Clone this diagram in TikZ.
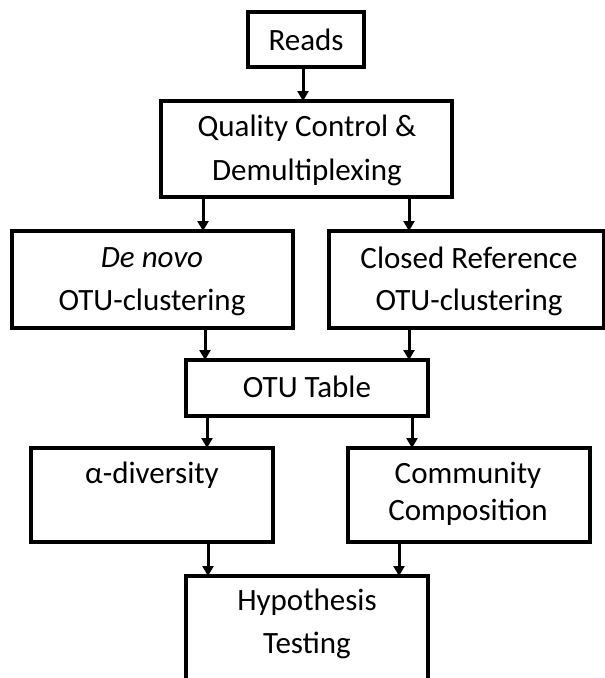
\documentclass[tikz,border=0pt]{standalone}
\usepackage{fontspec}
\setmainfont{Carlito}
\usetikzlibrary{arrows.meta}
\tikzset{
  box/.style={draw=black, line width=3.3pt, rectangle, inner sep=0pt, outer sep=0pt, anchor=north west},
  lbl/.style={inner sep=0pt, font=\fontsize{31}{36}\selectfont, text=black},
  arr/.style={line width=3pt, -{Triangle[width=11pt,length=10pt]}, shorten <=1.5pt}
}
\begin{document}
\begin{tikzpicture}[x=1pt,y=-1pt]
\useasboundingbox (0,0) rectangle (605,678);
\clip (0,0) rectangle (605,678);
% boxes
\node[box, minimum width=116pt, minimum height=55pt] (reads) at (248,12) {};
\node[box, minimum width=291pt, minimum height=96pt] (qc) at (161,101) {};
\node[box, minimum width=281pt, minimum height=97pt] (denovo) at (12,231) {};
\node[box, minimum width=275pt, minimum height=97pt] (closed) at (329,231) {};
\node[box, minimum width=242pt, minimum height=56pt] (otu) at (186,360) {};
\node[box, minimum width=242pt, minimum height=94pt] (alpha) at (31,448) {};
\node[box, minimum width=242pt, minimum height=94pt] (comm) at (348,448) {};
\node[box, minimum width=242pt, minimum height=130pt] (hyp) at (186,576) {};
% labels
\node[lbl] (treads) at (306,40) {Reads};
\node[lbl] (tqc1) at (307,128) {Quality Control \&};
\node[lbl] (tqc2) at (307,172) {Demultiplexing};
\node[lbl] (tdn1) at (152,258) {\itshape De novo};
\node[lbl] (tdn2) at (152,302) {OTU-clustering};
\node[lbl] (tcr1) at (469,258) {Closed Reference};
\node[lbl] (tcr2) at (469,302) {OTU-clustering};
\node[lbl] (totu) at (307,387) {OTU Table};
\node[lbl] (talpha) at (152,475) {α-diversity};
\node[lbl] (tcm1) at (468,475) {Community};
\node[lbl] (tcm2) at (468,512) {Composition};
\node[lbl] (thy1) at (307,602) {Hypothesis};
\node[lbl] (thy2) at (307,645) {Testing};
% arrows
\draw[arr] (reads.south -| 303,0) -- (qc.north -| 303,0);
\draw[arr] (qc.south -| 203,0) -- (denovo.north -| 203,0);
\draw[arr] (qc.south -| 409,0) -- (closed.north -| 409,0);
\draw[arr] (denovo.south -| 205,0) -- (otu.north -| 205,0);
\draw[arr] (closed.south -| 409,0) -- (otu.north -| 409,0);
\draw[arr] (otu.south -| 207,0) -- (alpha.north -| 207,0);
\draw[arr] (otu.south -| 412,0) -- (comm.north -| 412,0);
\draw[arr] (alpha.south -| 208,0) -- (hyp.north -| 208,0);
\draw[arr] (comm.south -| 399,0) -- (hyp.north -| 399,0);
\end{tikzpicture}
\end{document}
